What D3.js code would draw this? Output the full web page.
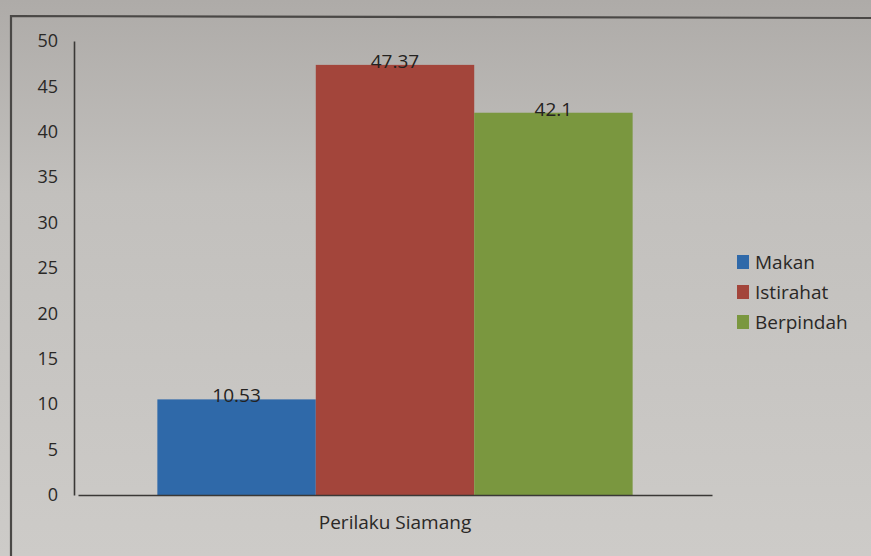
<!DOCTYPE html>
<html><head><meta charset="utf-8">
<script src="https://cdn.jsdelivr.net/npm/d3@7"></script>
<style>html,body{margin:0;padding:0;background:#c4c2bf;}svg{display:block;}</style>
</head><body>
<script>
const categories = ["Perilaku Siamang"];
const seriesNames = ["Makan", "Istirahat", "Berpindah"];
const seriesValues = [10.53, 47.37, 42.1];
const valueLabels = ["10.53", "47.37", "42.1"];
const seriesColors = ["#2f69a9", "#a3453b", "#7a973f"];
const yTicks = [0, 5, 10, 15, 20, 25, 30, 35, 40, 45, 50];

const W = 871, H = 556;
const svg = d3.select("body").append("svg").attr("width", W).attr("height", H);
const defs = svg.append("defs");
const g = defs.append("linearGradient").attr("id","bg").attr("x1",0).attr("y1",0).attr("x2",0).attr("y2",1);
g.append("stop").attr("offset","0").attr("stop-color","#aeaba8");
g.append("stop").attr("offset","0.35").attr("stop-color","#c2c0bd");
g.append("stop").attr("offset","1").attr("stop-color","#cdcbc8");
svg.append("rect").attr("width",W).attr("height",H).attr("fill","url(#bg)");

// outer frame
svg.append("path").attr("d","M11,556 L11,16 L871,18").attr("fill","none").attr("stroke","#4a4846").attr("stroke-width",2.2);

const font = "'Open Sans', 'Liberation Sans', sans-serif";
const y = d3.scaleLinear().domain([0, 50]).range([495, 41]);
const x0 = d3.scaleBand().domain(categories).range([78, 712]).paddingInner(0).paddingOuter(0.167);
const x1 = d3.scaleBand().domain(seriesNames).range([0, x0.bandwidth()]).padding(0);

// y axis
const yAxis = d3.axisLeft(y).tickValues(yTicks).tickSize(0).tickPadding(16);
const ya = svg.append("g").attr("transform","translate(74,0)").call(yAxis);
ya.select(".domain").attr("stroke","#3a3836").attr("stroke-width",1.6);
ya.selectAll("text").attr("font-family",font).attr("font-size",18).attr("fill","#2a2826");

// bars
const grp = svg.append("g").selectAll("g").data(categories).join("g")
  .attr("transform", d => `translate(${x0(d)},0)`);
grp.selectAll("rect").data(seriesNames.map((n,i)=>({n, v: seriesValues[i], c: seriesColors[i]})))
  .join("rect")
  .attr("x", d => x1(d.n)).attr("width", x1.bandwidth())
  .attr("y", d => y(d.v)).attr("height", d => y(0) - y(d.v))
  .attr("fill", d => d.c);
grp.selectAll("text").data(seriesNames.map((n,i)=>({n, v: seriesValues[i], l: valueLabels[i]})))
  .join("text")
  .attr("x", d => x1(d.n) + x1.bandwidth()/2)
  .attr("y", d => y(d.v) + 3)
  .attr("text-anchor","middle")
  .attr("font-family",font).attr("font-size",19).attr("fill","#242220")
  .text(d => d.l);

// x axis
const xAxis = d3.axisBottom(x0).tickSize(0).tickPadding(21);
const xa = svg.append("g").attr("transform",`translate(0,${y(0)})`).call(xAxis);
xa.select(".domain").attr("stroke","#3a3836").attr("stroke-width",1.6);
xa.selectAll("text").attr("font-family",font).attr("font-size",19).attr("fill","#2a2826");

// legend
const lg = svg.append("g").attr("transform","translate(737,262)");
const items = lg.selectAll("g").data(seriesNames).join("g").attr("transform",(d,i)=>`translate(0,${i*30})`);
items.append("rect").attr("x",0).attr("y",-7).attr("width",12).attr("height",14).attr("fill",(d,i)=>seriesColors[i]);
items.append("text").attr("x",18).attr("y",0).attr("dy","0.35em")
  .attr("font-family",font).attr("font-size",19).attr("fill","#2a2826").text(d=>d);
</script>
</body></html>
